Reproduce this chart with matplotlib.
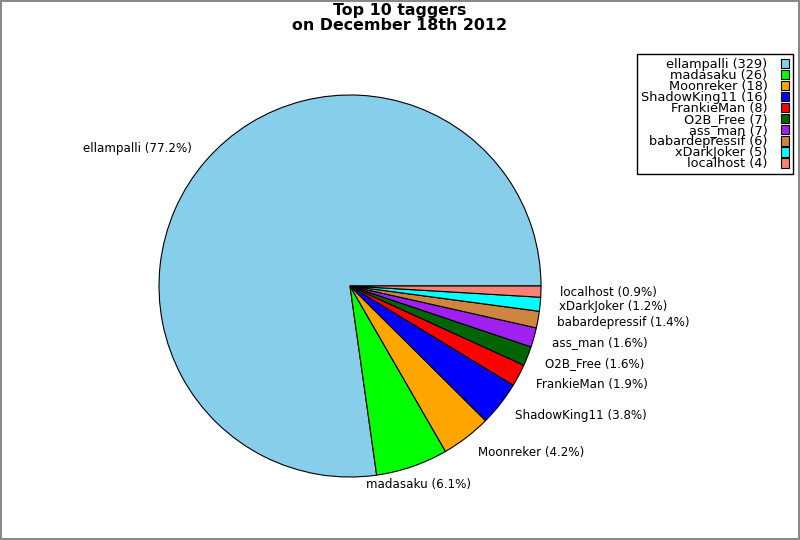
import matplotlib
matplotlib.use("Agg")
import matplotlib.pyplot as plt
import numpy as np

# Data
taggers = ["ellampalli", "madasaku", "Moonreker", "ShadowKing11", "FrankieMan",
           "O2B_Free", "ass_man", "babardepressif", "xDarkJoker", "localhost"]
counts = [329, 26, 18, 16, 8, 7, 7, 6, 5, 4]
colors = ["#87ceeb", "#00ff00", "#ffa500", "#0000ff", "#ff0000",
          "#006400", "#a020f0", "#cd853f", "#00ffff", "#fa8072"]
title = "Top 10 taggers\non December 18th 2012"

total = float(sum(counts))
pie_labels = ["%s (%.1f%%)" % (n, 100.0 * c / total) for n, c in zip(taggers, counts)]
legend_labels = ["%s (%d)" % (n, c) for n, c in zip(taggers, counts)]

fig = plt.figure(figsize=(8, 5.4), dpi=100, edgecolor="#888888", linewidth=1.5)
ax = fig.add_axes([111.25 / 800, 15.25 / 540, 477.5 / 800, 477.5 / 540])

wedges, texts = ax.pie(counts, labels=pie_labels, colors=colors, startangle=0,
                       labeldistance=1.1,
                       wedgeprops=dict(edgecolor="black", linewidth=0.8),
                       textprops=dict(fontsize=8.6))
ax.set_xlim(-1.25, 1.25)
ax.set_ylim(-1.25, 1.25)
ax.set_aspect("equal")

# labels close to vertical get centred
for w, t in zip(wedges, texts):
    mid = np.radians((w.theta1 + w.theta2) / 2.0)
    if abs(np.cos(mid)) < 0.4:
        t.set_horizontalalignment("center")

fig.text(0.5, 1 - 3.0 / 540, title, ha="center", va="top", fontsize=11.4,
         fontweight="bold", linespacing=1.04)

leg = fig.legend(wedges, legend_labels, loc="upper right",
                 bbox_to_anchor=(793.0 / 800, 1 - 54.0 / 540),
                 bbox_transform=fig.transFigure, borderaxespad=0,
                 markerfirst=False, fancybox=False, framealpha=1,
                 fontsize=9.3, labelspacing=-0.15, handlelength=0.62,
                 handleheight=0.75, handletextpad=1.05, borderpad=0.3)
leg.get_frame().set_edgecolor("black")
leg.get_frame().set_linewidth(1.0)
for t in leg.get_texts():
    t.set_horizontalalignment("right")

fig.savefig("out.png", dpi=100, edgecolor=fig.get_edgecolor())
